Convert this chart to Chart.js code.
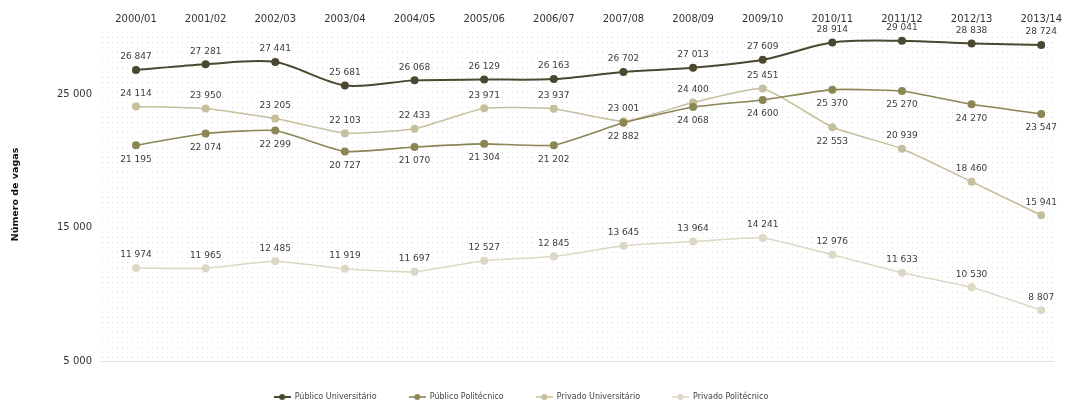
<!DOCTYPE html>
<html>
<head>
<meta charset="utf-8">
<script src="https://cdn.jsdelivr.net/npm/chart.js@4"></script>
<style>
  html, body { margin: 0; padding: 0; background: #fff; }
  #wrap { width: 1065px; height: 405px; }
</style>
</head>
<body>
<div id="wrap"><canvas id="graph"></canvas></div>
<script>
// anos lectivos
const anos = ['2000/01', '2001/02', '2002/03', '2003/04', '2004/05', '2005/06', '2006/07',
              '2007/08', '2008/09', '2009/10', '2010/11', '2011/12', '2012/13', '2013/14'];

// número de vagas por subsistema
const publicoUniversitario = [26847, 27281, 27441, 25681, 26068, 26129, 26163, 26702, 27013, 27609, 28914, 29041, 28838, 28724];
const publicoPolitecnico   = [21195, 22074, 22299, 20727, 21070, 21304, 21202, 22882, 24068, 24600, 25370, 25270, 24270, 23547];
const privadoUniversitario = [24114, 23950, 23205, 22103, 22433, 23971, 23937, 23001, 24400, 25451, 22553, 20939, 18460, 15941];
const privadoPolitecnico   = [11974, 11965, 12485, 11919, 11697, 12527, 12845, 13645, 13964, 14241, 12976, 11633, 10530, 8807];

// ticks do eixo y
const yTicks = [5000, 15000, 25000];

// posição dos rótulos (a = acima, b = abaixo)
const rotulosPubUniv = 'aaaaaaaaaaaaaa';
const rotulosPubPol  = 'bbbbbbbbbbbbbb';
const rotulosPrivUniv = 'aaaaaaaaaabaaa';
const rotulosPrivPol = 'aaaaaaaaaaaaaa';

const fmt = v => v.toString().replace(/\B(?=(\d{3})+(?!\d))/g, ' ');

// marcador da legenda: linha com ponto
function marcador(cor, lw) {
    const c = document.createElement('canvas');
    c.width = 17; c.height = 8;
    const g = c.getContext('2d');
    g.strokeStyle = cor; g.lineWidth = lw;
    g.beginPath(); g.moveTo(0, 4); g.lineTo(17, 4); g.stroke();
    g.fillStyle = cor;
    g.beginPath(); g.arc(8.5, 4, 3, 0, Math.PI * 2); g.fill();
    return c;
}

// fundo pontilhado
const tile = document.createElement('canvas');
tile.width = 5; tile.height = 5;
const tg = tile.getContext('2d');
tg.fillStyle = '#ffffff'; tg.fillRect(0, 0, 5, 5);
tg.fillStyle = '#deded6'; tg.fillRect(2, 2, 1, 1);

const fundo = {
    id: 'fundo',
    beforeDraw(chart) {
        const {ctx, chartArea: a} = chart;
        ctx.save();
        ctx.fillStyle = ctx.createPattern(tile, 'repeat');
        ctx.fillRect(a.left - 36, a.top, a.right - a.left + 49, a.bottom - a.top);
        ctx.strokeStyle = '#e2e2dc';
        ctx.lineWidth = 1;
        ctx.beginPath();
        ctx.moveTo(a.left - 36, a.bottom + 0.5);
        ctx.lineTo(a.right + 13, a.bottom + 0.5);
        ctx.stroke();
        ctx.restore();
    }
};

const rotulos = {
    id: 'rotulos',
    afterDatasetsDraw(chart) {
        const ctx = chart.ctx;
        ctx.save();
        ctx.font = '9px "DejaVu Sans"';
        ctx.fillStyle = '#3c3c3c';
        ctx.textAlign = 'center';
        ctx.textBaseline = 'middle';
        chart.data.datasets.forEach((ds, i) => {
            chart.getDatasetMeta(i).data.forEach((pt, j) => {
                const dy = ds.rotulos[j] === 'a' ? -13 : 14;
                ctx.fillText(fmt(ds.data[j]), pt.x, pt.y + dy);
            });
        });
        ctx.restore();
    }
};

function serie(label, data, cor, lw, tensao, pos) {
    return {
        label: label,
        data: data,
        borderColor: cor,
        backgroundColor: cor,
        borderWidth: lw,
        pointRadius: 4,
        pointHoverRadius: 4,
        pointBorderWidth: 0,
        tension: tensao,
        rotulos: pos,
        marcador: marcador(cor, lw)
    };
}

const ctx = document.getElementById('graph').getContext('2d');

new Chart(ctx, {
    type: 'line',
    data: {
        labels: anos,
        datasets: [
            serie('Público Universitário', publicoUniversitario, '#4a4830', 2, 0.3, rotulosPubUniv),
            serie('Público Politécnico', publicoPolitecnico, '#8b8654', 1.6, 0.15, rotulosPubPol),
            serie('Privado Universitário', privadoUniversitario, '#c6bf9d', 1.5, 0.15, rotulosPrivUniv),
            serie('Privado Politécnico', privadoPolitecnico, '#ddd8c6', 1.5, 0.15, rotulosPrivPol)
        ]
    },
    options: {
        responsive: true,
        maintainAspectRatio: false,
        animation: false,
        layout: { padding: { left: 0, right: 23, top: 0, bottom: 0 } },
        scales: {
            x: {
                position: 'top',
                offset: false,
                grid: { display: false, drawTicks: false },
                border: { display: false },
                ticks: {
                    padding: 3,
                    maxRotation: 0,
                    autoSkip: false,
                    color: '#333',
                    font: { family: 'DejaVu Sans', size: 10 }
                },
                afterFit: s => { s.height = 28; }
            },
            y: {
                min: 5000,
                max: 30000,
                grid: { display: false, drawTicks: false },
                border: { display: false },
                afterBuildTicks: s => { s.ticks = yTicks.map(v => ({ value: v })); },
                ticks: {
                    padding: 44,
                    color: '#333',
                    font: { family: 'DejaVu Sans', size: 10 },
                    callback: v => fmt(v)
                },
                title: {
                    display: true,
                    text: 'Número de vagas',
                    color: '#111',
                    padding: { top: 10, bottom: 0 },
                    font: { family: 'DejaVu Sans', size: 9.5, weight: 'bold' }
                },
                // largura fixa, sem a margem vertical que o padding dos ticks acrescenta
                afterFit: s => { s.width = 136; s.paddingTop = 0; s.paddingBottom = 0; }
            }
        },
        plugins: {
            tooltip: { enabled: false },
            legend: {
                position: 'bottom',
                maxHeight: 44,
                labels: {
                    usePointStyle: true,
                    pointStyleWidth: 17,
                    padding: 32,
                    color: '#444',
                    font: { family: 'DejaVu Sans', size: 8 },
                    generateLabels: chart => chart.data.datasets.map((ds, i) => ({
                        text: ds.label,
                        fillStyle: ds.borderColor,
                        strokeStyle: ds.borderColor,
                        fontColor: '#444',
                        pointStyle: ds.marcador,
                        lineWidth: 0,
                        datasetIndex: i
                    }))
                }
            }
        }
    },
    plugins: [fundo, rotulos]
});
</script>
</body>
</html>
